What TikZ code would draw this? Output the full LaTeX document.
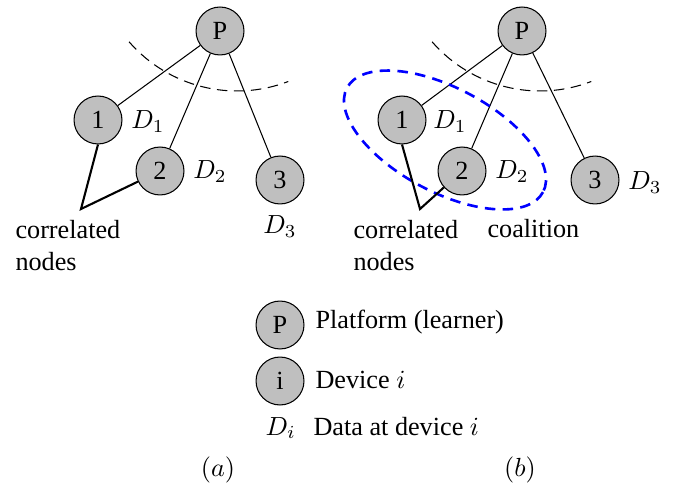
\documentclass[tikz,border=0pt]{standalone}
\usepackage{fontspec}
\setmainfont{Liberation Serif}
\tikzstyle{devnode}=[shape=circle,minimum size=18.3pt,inner sep=0,draw,fill=black!25]
\tikzstyle{txt}=[inner sep=0]
\tikzstyle{corr}=[thick]
\tikzstyle{rangearc}=[dash pattern=on 4pt off 2.5pt]
\tikzstyle{coalarc}=[blue,line width=1pt,dash pattern=on 4pt off 2.8pt]

\begin{document}
\begin{tikzpicture}[x=0.3817pt,y=-0.3817pt]
\useasboundingbox (0,0) rectangle (677,487);

\node[devnode] (pa) at (220,31) {P};
\node[devnode] (a1) at (98,120) {1};
\node[devnode] (a2) at (160,171) {2};
\node[devnode] (a3) at (280,180) {3};
\foreach \i in {1,2,3}
	\draw (pa) -- (a\i);
\node[txt] (da1) at (148,122) {$D_1$};
\node[txt] (da2) at (210,172) {$D_2$};
\node[txt] (da3) at (280,227) {$D_3$};
\draw[rangearc] (237,-52) ++(139:143) arc (139:69:143);
\coordinate (ca) at (81,209);
\draw[corr] (a1.south) -- (ca) -- (a2);
\node[txt,anchor=north west,align=left] (cna) at (15,220) {correlated\\nodes};

\node[devnode] (pb) at (522,31) {P};
\node[devnode] (b1) at (402,120) {1};
\node[devnode] (b2) at (462,171) {2};
\node[devnode] (b3) at (595,180) {3};
\foreach \i in {1,2,3}
	\draw (pb) -- (b\i);
\node[txt] (db1) at (450,122) {$D_1$};
\node[txt] (db2) at (512,172) {$D_2$};
\node[txt] (db3) at (645,183) {$D_3$};
\draw[rangearc] (540,-52) ++(139:143) arc (139:69:143);
\draw[coalarc,rotate around={-28:(445,140)}] (445,140) ellipse [x radius=111,y radius=52];
\coordinate (cb) at (420,209);
\draw[corr] (b1.south) -- (cb) -- (b2);
\node[txt,anchor=north west,align=left] (cnb) at (353,220) {correlated\\nodes};
\node[txt,anchor=base west] (coalt) at (487,238) {coalition};

\node[devnode] (lp) at (280,325) {P};
\node[txt,anchor=base west] (lpt) at (315,328) {Platform (learner)};
\node[devnode] (li) at (280,381) {i};
\node[txt,anchor=base west] (lit) at (315,388) {Device $i$};
\node[txt,anchor=base west] (ld) at (265,435) {$D_i$};
\node[txt,anchor=base west] (ldt) at (313,435) {Data at device $i$};

\node[txt,anchor=base] (capa) at (218,476) {$(a)$};
\node[txt,anchor=base] (capb) at (520,476) {$(b)$};
\end{tikzpicture}
\end{document}
